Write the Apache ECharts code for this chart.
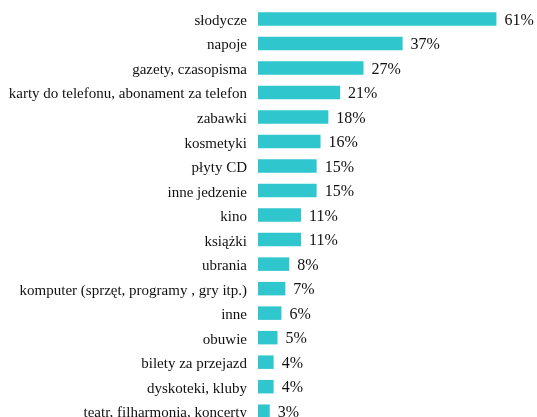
<!DOCTYPE html>
<html>
<head>
<meta charset="utf-8">
<script src="https://cdn.jsdelivr.net/npm/echarts@6/dist/echarts.min.js"></script>
<style>
	html, body { margin: 0; padding: 0; background: #fff; }
	#container { width: 537px; height: 417px; }
</style>
</head>
<body>
<div id="container"></div>
<script type="text/javascript">
	// kategorie i wartości (%)
	var categories = [
		'słodycze', 'napoje', 'gazety, czasopisma', 'karty do telefonu, abonament za telefon',
		'zabawki', 'kosmetyki', 'płyty CD', 'inne jedzenie', 'kino', 'książki', 'ubrania',
		'komputer (sprzęt, programy , gry itp.)', 'inne', 'obuwie', 'bilety za przejazd',
		'dyskoteki, kluby', 'teatr, filharmonia, koncerty'
	];
	var values = [61, 37, 27, 21, 18, 16, 15, 15, 11, 11, 8, 7, 6, 5, 4, 4, 3];

	var myChart = echarts.init(document.getElementById('container'));
	var option = {
		animation: false,
		backgroundColor: '#fff',
		grid: {
			left: 258,
			right: 5.4,
			top: 6.75,
			bottom: -6.45,
			containLabel: false,
			outerBoundsMode: 'none'
		},
		xAxis: {
			type: 'value',
			min: 0,
			max: 70,
			show: false
		},
		yAxis: {
			type: 'category',
			inverse: true,
			data: categories,
			axisLine: { show: false },
			axisTick: { show: false },
			axisLabel: {
				margin: 11,
				color: '#111',
				fontFamily: 'Liberation Serif',
				fontSize: 15,
				verticalAlign: 'top',
				lineHeight: 4
			}
		},
		series: [
			{
				type: 'bar',
				data: values,
				barWidth: 13.5,
				itemStyle: { color: '#2fc6cd' },
				label: {
					show: true,
					position: 'right',
					distance: 8,
					offset: [0, 1.5],
					formatter: '{c}%',
					color: '#111',
					fontFamily: 'Liberation Serif',
					fontSize: 16
				}
			}
		]
	};
	myChart.setOption(option);
</script>
</body>
</html>
